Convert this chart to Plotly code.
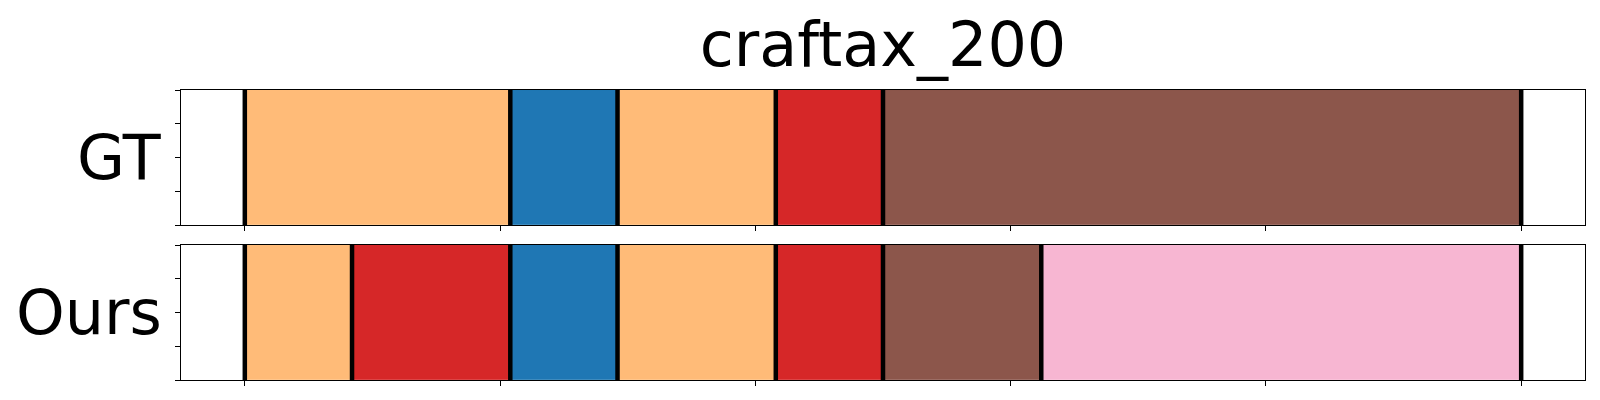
import plotly.graph_objects as go

# ---- data ----
title_text = "craftax_200"
row_names = ["GT", "Ours"]

gt_bounds = [0, 52, 73, 104, 125, 250]
gt_colors = ["#ffbb78", "#1f77b4", "#ffbb78", "#d62728", "#8c564b"]

ours_bounds = [0, 21, 52, 73, 104, 125, 156, 250]
ours_colors = ["#ffbb78", "#d62728", "#1f77b4", "#ffbb78", "#d62728", "#8c564b", "#f7b6d2"]

x_ticks = [0, 50, 100, 150, 200, 250]
y_ticks = [0, 0.25, 0.5, 0.75, 1.0]
x_min, x_max = 0, 250

FONT = "DejaVu Sans"

fig = go.Figure()

rows = [(gt_bounds, gt_colors, "x", "y"), (ours_bounds, ours_colors, "x2", "y2")]
for bounds, colors, xa, ya in rows:
    starts = bounds[:-1]
    lengths = [b - a for a, b in zip(bounds[:-1], bounds[1:])]
    fig.add_trace(go.Bar(
        orientation="h",
        base=starts,
        x=lengths,
        y=[0.5] * len(starts),
        width=1.0,
        marker=dict(color=colors, line=dict(width=0.8, color=colors)),
        xaxis=xa, yaxis=ya,
        showlegend=False, hoverinfo="skip",
    ))
    lx, ly = [], []
    for b in bounds:
        lx += [b, b, None]
        ly += [0, 1, None]
    fig.add_trace(go.Scatter(
        x=lx, y=ly, mode="lines",
        line=dict(color="black", width=4.5),
        xaxis=xa, yaxis=ya, showlegend=False, hoverinfo="skip",
    ))

pad = 0.05 * (x_max - x_min)
xcommon = dict(
    range=[x_min - pad, x_max + pad], tickvals=x_ticks, showticklabels=False,
    ticks="outside", ticklen=5, tickwidth=1, tickcolor="black",
    showline=True, linecolor="black", linewidth=1, mirror=True,
    showgrid=False, zeroline=False,
)
ycommon = dict(
    range=[0, 1], tickvals=y_ticks, showticklabels=False,
    ticks="outside", ticklen=5, tickwidth=1, tickcolor="black",
    showline=True, linecolor="black", linewidth=1, mirror=True,
    showgrid=False, zeroline=False,
)

fig.update_layout(
    width=1600, height=400,
    margin=dict(l=173, r=23, t=82, b=28),
    paper_bgcolor="white", plot_bgcolor="white",
    barmode="overlay", bargap=0,
    font=dict(family=FONT, color="black"),
    xaxis=dict(**xcommon, anchor="y", domain=[0, 1]),
    yaxis=dict(**ycommon, anchor="x", domain=[0.5345, 1.0]),
    xaxis2=dict(**xcommon, anchor="y2", domain=[0, 1]),
    yaxis2=dict(**ycommon, anchor="x2", domain=[0.0, 0.4655]),
    title=dict(text=title_text, x=0.5, xref="paper", xanchor="center",
               y=0.91, yref="container", yanchor="middle",
               font=dict(size=62, family=FONT, color="black")),
)

for name, yref in zip(row_names, ["y domain", "y2 domain"]):
    fig.add_annotation(
        text=name, x=0, xref="paper", y=0.5, yref=yref,
        xanchor="right", yanchor="middle", xshift=-17, showarrow=False,
        font=dict(size=62, family=FONT, color="black"),
    )

fig.write_html("out.html")
